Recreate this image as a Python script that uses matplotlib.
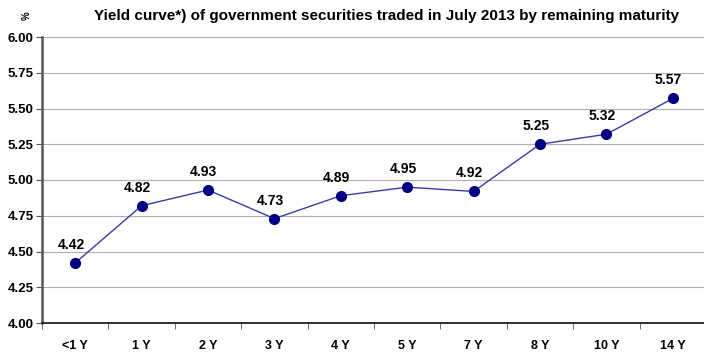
import matplotlib
matplotlib.use('Agg')
import matplotlib.pyplot as plt
import numpy as np

categories = ['<1 Y', '1 Y', '2 Y', '3 Y', '4 Y', '5 Y', '7 Y', '8 Y', '10 Y', '14 Y']
yields = [4.42, 4.82, 4.93, 4.73, 4.89, 4.95, 4.92, 5.25, 5.32, 5.57]
y_ticks = [4.00, 4.25, 4.50, 4.75, 5.00, 5.25, 5.50, 5.75, 6.00]
title = 'Yield curve*) of government securities traded in July 2013 by remaining maturity'

plt.rcParams['font.family'] = ['Liberation Sans', 'DejaVu Sans']
plt.rcParams['font.weight'] = 'bold'

fig = plt.figure(figsize=(7.04, 3.52), dpi=100)
ax = fig.add_axes([42 / 704, 1 - 323 / 352, 664 / 704, (323 - 37) / 352])

x = np.arange(len(categories))
ax.plot(x, yields, color='#3a3aa8', linewidth=1.0, marker='o', markersize=7,
        markerfacecolor='#000080', markeredgecolor='#000080', zorder=3)
for xi, yi in zip(x, yields):
    ax.annotate(f'{yi:.2f}', (xi, yi), xytext=(-3, 13), textcoords='offset points',
                ha='center', va='center', fontsize=10, fontweight='bold', color='black')

ax.set_xlim(-0.5, len(categories) - 0.5)
ax.set_ylim(4.0, 6.0)
ax.set_yticks(y_ticks)
ax.set_yticklabels([f'{v:.2f}' for v in y_ticks], fontsize=9.5, fontweight='bold')
ax.set_xticks(x)
ax.set_xticklabels(categories, fontsize=9, fontweight='bold')
ax.tick_params(axis='x', length=0, pad=12)
ax.set_xticks(np.arange(len(categories) + 1) - 0.5, minor=True)
ax.tick_params(axis='x', which='minor', length=4, color='#555555', direction='out')
ax.tick_params(axis='y', length=4, color='#555555', direction='out', pad=2)

ax.grid(axis='y', color='#b0b0b0', linewidth=0.8)
ax.set_axisbelow(True)
for side in ['top', 'right']:
    ax.spines[side].set_visible(False)
ax.spines['left'].set_color('#555555')
ax.spines['left'].set_linewidth(1.8)
ax.spines['bottom'].set_color('#222222')
ax.spines['bottom'].set_linewidth(1.3)

fig.text(387 / 704, 1 - 16 / 352, title, ha='center', va='center',
         fontsize=11, fontweight='bold')
fig.text(27 / 704, 1 - 16 / 352, '%', ha='center', va='center',
         fontsize=7, fontweight='bold', rotation=90)

fig.savefig('out.png', dpi=100)
